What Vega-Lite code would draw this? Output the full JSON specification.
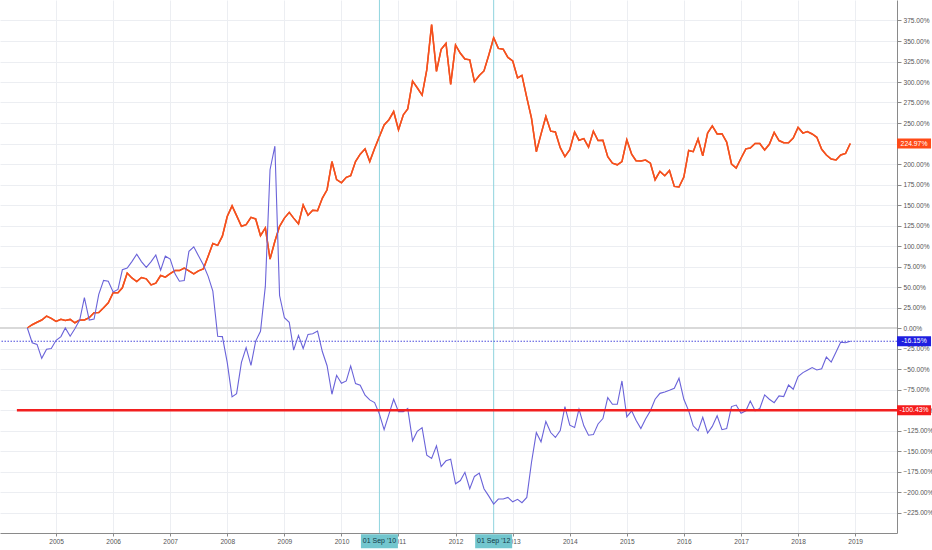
{
  "$schema": "https://vega.github.io/schema/vega-lite/v6.json",
  "width": 897,
  "height": 533,
  "autosize": "none",
  "padding": {"left": 0, "top": 0, "right": 35, "bottom": 17},
  "background": "white",
  "config": {
    "view": {"stroke": null},
    "font": "Liberation Sans",
    "axis": {
      "title": null,
      "labelFont": "Liberation Sans",
      "labelFontSize": 6.6,
      "labelColor": "#555555",
      "labelOverlap": false,
      "gridColor": "#eceef2",
      "gridWidth": 1,
      "domainColor": "#8a8a8a",
      "tickColor": "#8a8a8a"
    }
  },
  "datasets": {
    "prices": [
      {"month": "2004-07-01", "s1": 0, "s2": 0},
      {"month": "2004-08-01", "s1": 4, "s2": -18},
      {"month": "2004-09-01", "s1": 7, "s2": -20},
      {"month": "2004-10-01", "s1": 9.7, "s2": -37},
      {"month": "2004-11-01", "s1": 14.5, "s2": -26},
      {"month": "2004-12-01", "s1": 11.7, "s2": -25},
      {"month": "2005-01-01", "s1": 8, "s2": -15},
      {"month": "2005-02-01", "s1": 10.5, "s2": -10.5},
      {"month": "2005-03-01", "s1": 9.3, "s2": 0},
      {"month": "2005-04-01", "s1": 10.5, "s2": -10},
      {"month": "2005-05-01", "s1": 6.4, "s2": -1},
      {"month": "2005-06-01", "s1": 9.7, "s2": 9.7},
      {"month": "2005-07-01", "s1": 9.7, "s2": 37},
      {"month": "2005-08-01", "s1": 12.5, "s2": 9.7},
      {"month": "2005-09-01", "s1": 18.6, "s2": 11},
      {"month": "2005-10-01", "s1": 19, "s2": 41},
      {"month": "2005-11-01", "s1": 24.7, "s2": 58},
      {"month": "2005-12-01", "s1": 30.8, "s2": 57},
      {"month": "2006-01-01", "s1": 43, "s2": 44},
      {"month": "2006-02-01", "s1": 43, "s2": 47},
      {"month": "2006-03-01", "s1": 49, "s2": 71},
      {"month": "2006-04-01", "s1": 67, "s2": 73},
      {"month": "2006-05-01", "s1": 61, "s2": 81},
      {"month": "2006-06-01", "s1": 56.7, "s2": 90},
      {"month": "2006-07-01", "s1": 61.6, "s2": 81},
      {"month": "2006-08-01", "s1": 60, "s2": 74},
      {"month": "2006-09-01", "s1": 52.6, "s2": 81},
      {"month": "2006-10-01", "s1": 54.7, "s2": 89},
      {"month": "2006-11-01", "s1": 64, "s2": 70.5},
      {"month": "2006-12-01", "s1": 62, "s2": 87.6},
      {"month": "2007-01-01", "s1": 66.4, "s2": 84},
      {"month": "2007-02-01", "s1": 70, "s2": 66},
      {"month": "2007-03-01", "s1": 70, "s2": 57},
      {"month": "2007-04-01", "s1": 73, "s2": 58},
      {"month": "2007-05-01", "s1": 69.6, "s2": 93.5},
      {"month": "2007-06-01", "s1": 66, "s2": 99},
      {"month": "2007-07-01", "s1": 69.6, "s2": 88},
      {"month": "2007-08-01", "s1": 72, "s2": 77},
      {"month": "2007-09-01", "s1": 87.6, "s2": 63},
      {"month": "2007-10-01", "s1": 103, "s2": 45},
      {"month": "2007-11-01", "s1": 100.7, "s2": -10},
      {"month": "2007-12-01", "s1": 112, "s2": -10.5},
      {"month": "2008-01-01", "s1": 136, "s2": -42},
      {"month": "2008-02-01", "s1": 149, "s2": -84},
      {"month": "2008-03-01", "s1": 137, "s2": -80},
      {"month": "2008-04-01", "s1": 124, "s2": -42},
      {"month": "2008-05-01", "s1": 126, "s2": -24},
      {"month": "2008-06-01", "s1": 135, "s2": -45.5},
      {"month": "2008-07-01", "s1": 133, "s2": -16},
      {"month": "2008-08-01", "s1": 112.7, "s2": -4},
      {"month": "2008-09-01", "s1": 122, "s2": 51},
      {"month": "2008-10-01", "s1": 84, "s2": 193},
      {"month": "2008-11-01", "s1": 105.8, "s2": 221.7},
      {"month": "2008-12-01", "s1": 124, "s2": 39.6},
      {"month": "2009-01-01", "s1": 134, "s2": 12.5},
      {"month": "2009-02-01", "s1": 141, "s2": 7},
      {"month": "2009-03-01", "s1": 134, "s2": -27},
      {"month": "2009-04-01", "s1": 127, "s2": -9},
      {"month": "2009-05-01", "s1": 150, "s2": -25},
      {"month": "2009-06-01", "s1": 137.5, "s2": -7.8},
      {"month": "2009-07-01", "s1": 143.5, "s2": -7},
      {"month": "2009-08-01", "s1": 143, "s2": -3.8},
      {"month": "2009-09-01", "s1": 158.5, "s2": -29},
      {"month": "2009-10-01", "s1": 168.6, "s2": -46},
      {"month": "2009-11-01", "s1": 203, "s2": -80.8},
      {"month": "2009-12-01", "s1": 181, "s2": -57.7},
      {"month": "2010-01-01", "s1": 177, "s2": -67.5},
      {"month": "2010-02-01", "s1": 183.7, "s2": -64.6},
      {"month": "2010-03-01", "s1": 185.7, "s2": -46.3},
      {"month": "2010-04-01", "s1": 203, "s2": -67.8},
      {"month": "2010-05-01", "s1": 212, "s2": -69.8},
      {"month": "2010-06-01", "s1": 218.5, "s2": -82},
      {"month": "2010-07-01", "s1": 203, "s2": -87.7},
      {"month": "2010-08-01", "s1": 219, "s2": -91},
      {"month": "2010-09-01", "s1": 233.6, "s2": -105},
      {"month": "2010-10-01", "s1": 247.7, "s2": -124},
      {"month": "2010-11-01", "s1": 254, "s2": -105},
      {"month": "2010-12-01", "s1": 264, "s2": -86.9},
      {"month": "2011-01-01", "s1": 241.7, "s2": -102},
      {"month": "2011-02-01", "s1": 260, "s2": -102},
      {"month": "2011-03-01", "s1": 267, "s2": -98.2},
      {"month": "2011-04-01", "s1": 301, "s2": -137.6},
      {"month": "2011-05-01", "s1": 293, "s2": -126},
      {"month": "2011-06-01", "s1": 284, "s2": -121.5},
      {"month": "2011-07-01", "s1": 314.7, "s2": -155},
      {"month": "2011-08-01", "s1": 370, "s2": -159},
      {"month": "2011-09-01", "s1": 313, "s2": -143.7},
      {"month": "2011-10-01", "s1": 339.8, "s2": -169},
      {"month": "2011-11-01", "s1": 347, "s2": -162},
      {"month": "2011-12-01", "s1": 297, "s2": -160},
      {"month": "2012-01-01", "s1": 345, "s2": -190},
      {"month": "2012-02-01", "s1": 335, "s2": -186},
      {"month": "2012-03-01", "s1": 328, "s2": -176},
      {"month": "2012-04-01", "s1": 327, "s2": -196},
      {"month": "2012-05-01", "s1": 300.5, "s2": -181},
      {"month": "2012-06-01", "s1": 308, "s2": -177},
      {"month": "2012-07-01", "s1": 313.5, "s2": -196},
      {"month": "2012-08-01", "s1": 333, "s2": -205},
      {"month": "2012-09-01", "s1": 354, "s2": -214.7},
      {"month": "2012-10-01", "s1": 341, "s2": -208.6},
      {"month": "2012-11-01", "s1": 340, "s2": -208.6},
      {"month": "2012-12-01", "s1": 330, "s2": -206.6},
      {"month": "2013-01-01", "s1": 325.7, "s2": -212},
      {"month": "2013-02-01", "s1": 305, "s2": -209},
      {"month": "2013-03-01", "s1": 308, "s2": -213},
      {"month": "2013-04-01", "s1": 281, "s2": -206.6},
      {"month": "2013-05-01", "s1": 256, "s2": -164},
      {"month": "2013-06-01", "s1": 215, "s2": -127.5},
      {"month": "2013-07-01", "s1": 236.4, "s2": -138.8},
      {"month": "2013-08-01", "s1": 258, "s2": -114},
      {"month": "2013-09-01", "s1": 240, "s2": -127.5},
      {"month": "2013-10-01", "s1": 239, "s2": -133.5},
      {"month": "2013-11-01", "s1": 220, "s2": -125},
      {"month": "2013-12-01", "s1": 209, "s2": -95.8},
      {"month": "2014-01-01", "s1": 217.4, "s2": -118.5},
      {"month": "2014-02-01", "s1": 239, "s2": -121.4},
      {"month": "2014-03-01", "s1": 229, "s2": -99},
      {"month": "2014-04-01", "s1": 231, "s2": -119.3},
      {"month": "2014-05-01", "s1": 220.6, "s2": -130.7},
      {"month": "2014-06-01", "s1": 240, "s2": -130},
      {"month": "2014-07-01", "s1": 228.6, "s2": -117},
      {"month": "2014-08-01", "s1": 229, "s2": -110.4},
      {"month": "2014-09-01", "s1": 209, "s2": -84.9},
      {"month": "2014-10-01", "s1": 201, "s2": -93},
      {"month": "2014-11-01", "s1": 199, "s2": -93},
      {"month": "2014-12-01", "s1": 203, "s2": -64.6},
      {"month": "2015-01-01", "s1": 229.5, "s2": -108.4},
      {"month": "2015-02-01", "s1": 212, "s2": -101},
      {"month": "2015-03-01", "s1": 204, "s2": -112.4},
      {"month": "2015-04-01", "s1": 203.6, "s2": -122.6},
      {"month": "2015-05-01", "s1": 204.8, "s2": -111},
      {"month": "2015-06-01", "s1": 201, "s2": -101},
      {"month": "2015-07-01", "s1": 180.8, "s2": -86.9},
      {"month": "2015-08-01", "s1": 191, "s2": -79.7},
      {"month": "2015-09-01", "s1": 185.7, "s2": -78},
      {"month": "2015-10-01", "s1": 192, "s2": -76},
      {"month": "2015-11-01", "s1": 172.7, "s2": -73.5},
      {"month": "2015-12-01", "s1": 172, "s2": -61.3},
      {"month": "2016-01-01", "s1": 184, "s2": -86.9},
      {"month": "2016-02-01", "s1": 216.5, "s2": -101},
      {"month": "2016-03-01", "s1": 215, "s2": -119.3},
      {"month": "2016-04-01", "s1": 230.7, "s2": -125.4},
      {"month": "2016-05-01", "s1": 210, "s2": -109},
      {"month": "2016-06-01", "s1": 237.7, "s2": -128},
      {"month": "2016-07-01", "s1": 246.5, "s2": -120},
      {"month": "2016-08-01", "s1": 236.6, "s2": -107},
      {"month": "2016-09-01", "s1": 237, "s2": -124},
      {"month": "2016-10-01", "s1": 226.7, "s2": -122.6},
      {"month": "2016-11-01", "s1": 200, "s2": -95.8},
      {"month": "2016-12-01", "s1": 195, "s2": -94},
      {"month": "2017-01-01", "s1": 207, "s2": -104},
      {"month": "2017-02-01", "s1": 218.5, "s2": -101},
      {"month": "2017-03-01", "s1": 219.4, "s2": -89},
      {"month": "2017-04-01", "s1": 225, "s2": -101},
      {"month": "2017-05-01", "s1": 225, "s2": -98.2},
      {"month": "2017-06-01", "s1": 217, "s2": -81.6},
      {"month": "2017-07-01", "s1": 224, "s2": -86.9},
      {"month": "2017-08-01", "s1": 238.5, "s2": -91},
      {"month": "2017-09-01", "s1": 228.6, "s2": -82.8},
      {"month": "2017-10-01", "s1": 226, "s2": -83.6},
      {"month": "2017-11-01", "s1": 226, "s2": -69.5},
      {"month": "2017-12-01", "s1": 231.6, "s2": -74.7},
      {"month": "2018-01-01", "s1": 244.6, "s2": -59.3},
      {"month": "2018-02-01", "s1": 237.7, "s2": -54.4},
      {"month": "2018-03-01", "s1": 239.6, "s2": -51.6},
      {"month": "2018-04-01", "s1": 236.6, "s2": -48.3},
      {"month": "2018-05-01", "s1": 232.6, "s2": -51.2},
      {"month": "2018-06-01", "s1": 218, "s2": -49.6},
      {"month": "2018-07-01", "s1": 211, "s2": -35.4},
      {"month": "2018-08-01", "s1": 206, "s2": -41.5},
      {"month": "2018-09-01", "s1": 205, "s2": -29.3},
      {"month": "2018-10-01", "s1": 211, "s2": -17.2},
      {"month": "2018-11-01", "s1": 213, "s2": -18},
      {"month": "2018-12-01", "s1": 224.97, "s2": -16.15}
    ],
    "levels": [
      {"series": "s1", "value": 224.97, "label": "224.97%"},
      {"series": "s2", "value": -16.15, "label": "-16.15%"},
      {"series": "level", "value": -100.43, "label": "-100.43%", "start": "2004-04-25"}
    ],
    "baseline": [{"value": 0}],
    "markers": [
      {"date": "2010-09-01", "label": "01 Sep '10"},
      {"date": "2012-09-01", "label": "01 Sep '12"}
    ]
  },
  "layer": [
    {
      "data": {"name": "prices"},
      "mark": {"type": "line", "color": "#f4511e", "strokeWidth": 1.5},
      "encoding": {
        "x": {
          "field": "month",
          "type": "temporal",
          "scale": {
            "domain": [{"year": 2004, "month": 1, "date": 8}, {"year": 2019, "month": 9, "date": 26}],
            "nice": false
          },
          "axis": {
            "orient": "bottom",
            "format": "%Y",
            "tickCount": {"interval": "year", "step": 1},
            "grid": true,
            "tickSize": 3,
            "labelPadding": 2,
            "labelOverlap": false
          }
        },
        "y": {
          "field": "s1",
          "type": "quantitative",
          "scale": {"domain": [-250, 400], "nice": false, "zero": false},
          "axis": {
            "orient": "right",
            "values": [-225, -200, -175, -150, -125, -100, -75, -50, -25, 0, 25, 50, 75, 100, 125, 150, 175, 200, 225, 250, 275, 300, 325, 350, 375],
            "tickCount": 40,
            "labelExpr": "format(datum.value, '.2f') + '%'",
            "labelOverlap": false,
            "grid": true,
            "tickSize": 4,
            "labelPadding": 2
          }
        }
      }
    },
    {
      "data": {"name": "baseline"},
      "mark": {"type": "rule", "color": "#d9d9d9", "strokeWidth": 2},
      "encoding": {"y": {"field": "value", "type": "quantitative"}}
    },
    {
      "data": {"name": "markers"},
      "mark": {"type": "rule", "color": "#8fd4de", "strokeWidth": 1},
      "encoding": {"x": {"field": "date", "type": "temporal"}}
    },
    {
      "data": {"name": "prices"},
      "mark": {"type": "line", "color": "#f4511e", "strokeWidth": 1.5},
      "encoding": {
        "x": {"field": "month", "type": "temporal"},
        "y": {"field": "s1", "type": "quantitative"}
      }
    },
    {
      "data": {"name": "prices"},
      "mark": {"type": "line", "color": "#6a63d9", "strokeWidth": 1.1},
      "encoding": {
        "x": {"field": "month", "type": "temporal"},
        "y": {"field": "s2", "type": "quantitative"}
      }
    },
    {
      "data": {"name": "levels"},
      "transform": [{"filter": "datum.series === 's2'"}],
      "mark": {"type": "rule", "color": "#4b4bdc", "strokeWidth": 1, "strokeDash": [1.5, 1.5]},
      "encoding": {"y": {"field": "value", "type": "quantitative"}}
    },
    {
      "data": {"name": "levels"},
      "transform": [{"filter": "datum.series === 'level'"}],
      "mark": {"type": "rule", "color": "#f21f1f", "strokeWidth": 2.5},
      "encoding": {
        "x": {"field": "start", "type": "temporal"},
        "x2": {"datum": {"year": 2019, "month": 9, "date": 26}},
        "y": {"field": "value", "type": "quantitative"}
      }
    },
    {
      "data": {"name": "levels"},
      "mark": {
        "type": "point",
        "filled": true,
        "opacity": 1,
        "strokeWidth": 0,
        "size": 400,
        "shape": "M-1.7,-0.5H1.7V0.5H-1.7Z"
      },
      "encoding": {
        "x": {"datum": {"year": 2020, "month": 1, "date": 13}, "type": "temporal"},
        "y": {"field": "value", "type": "quantitative"},
        "fill": {
          "field": "series",
          "type": "nominal",
          "scale": {"domain": ["s1", "s2", "level"], "range": ["#ff4a17", "#1e1ee0", "#f51c1c"]},
          "legend": null
        }
      }
    },
    {
      "data": {"name": "levels"},
      "mark": {"type": "text", "color": "white", "fontSize": 6.8, "align": "center", "baseline": "middle", "font": "Liberation Sans"},
      "encoding": {
        "x": {"datum": {"year": 2020, "month": 1, "date": 13}, "type": "temporal"},
        "y": {"field": "value", "type": "quantitative"},
        "text": {"field": "label"}
      }
    },
    {
      "data": {"name": "markers"},
      "mark": {
        "type": "point",
        "filled": true,
        "opacity": 1,
        "strokeWidth": 0,
        "size": 400,
        "color": "#72c6ce",
        "shape": "M-1.85,-0.7H1.85V0.7H-1.85Z"
      },
      "encoding": {
        "x": {"field": "date", "type": "temporal"},
        "y": {"datum": -260, "type": "quantitative"}
      }
    },
    {
      "data": {"name": "markers"},
      "mark": {"type": "text", "color": "#123848", "fontSize": 7, "align": "center", "baseline": "middle", "font": "Liberation Sans"},
      "encoding": {
        "x": {"field": "date", "type": "temporal"},
        "y": {"datum": -260, "type": "quantitative"},
        "text": {"field": "label"}
      }
    }
  ]
}
